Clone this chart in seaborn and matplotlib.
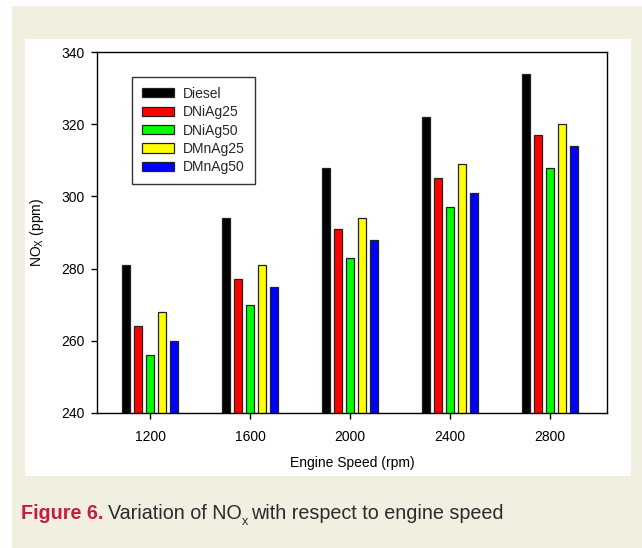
import pandas as pd
import numpy as np
import matplotlib
matplotlib.use('Agg')
import matplotlib.pyplot as plt
from matplotlib.patches import Rectangle
import seaborn as sns

# Data
speeds = ['1200', '1600', '2000', '2400', '2800']
fuels = ['Diesel', 'DNiAg25', 'DNiAg50', 'DMnAg25', 'DMnAg50']
diesel = [281, 294, 308, 322, 334]
dniag25 = [264, 277, 291, 305, 317]
dniag50 = [256, 270, 283, 297, 308]
dmnag25 = [268, 281, 294, 309, 320]
dmnag50 = [260, 275, 288, 301, 314]
colors = ['#000000', '#ff0000', '#00ff00', '#ffff00', '#0000ff']

series = [diesel, dniag25, dniag50, dmnag25, dmnag50]
df = pd.DataFrame({
    'speed': np.tile(speeds, len(fuels)),
    'fuel': np.repeat(fuels, len(speeds)),
    'nox': np.concatenate(series),
})

sns.set_theme(style='white')
plt.rcParams['font.family'] = ['Liberation Sans', 'DejaVu Sans']

W, H = 642, 548
fig = plt.figure(figsize=(W / 100, H / 100), dpi=100)
fig.patch.set_facecolor('white')

# beige page + white panel behind the chart
fig.add_artist(Rectangle((12 / W, 0), 1 - 12 / W, 1 - 6 / H, transform=fig.transFigure,
                         facecolor='#f1efe0', edgecolor='none', zorder=-10))
fig.add_artist(Rectangle((25 / W, 1 - 476 / H), (631 - 25) / W, (476 - 39) / H,
                         transform=fig.transFigure, facecolor='white', edgecolor='none', zorder=-9))

ax = fig.add_axes([97 / W, 1 - 413 / H, (607 - 97) / W, (413 - 52) / H])
ax.set_facecolor('white')

sns.barplot(data=df, x='speed', y='nox', hue='fuel', order=speeds, hue_order=fuels,
            palette=colors, width=0.6, gap=1 / 3, edgecolor='#222222', linewidth=0.9,
            saturation=1, ax=ax)

ax.set_ylim(240, 340)
ax.set_yticks(range(240, 341, 20))
ax.set_xlim(-0.53, 4.57)

for s in ax.spines.values():
    s.set_color('black')
    s.set_linewidth(1.0)

ax.tick_params(axis='both', which='major', direction='out', length=4, width=1,
               color='black', labelsize=10, labelcolor='black', pad=3,
               bottom=True, left=True, top=False, right=False)
ax.tick_params(axis='y', pad=5)
ax.tick_params(axis='x', pad=8)

ax.set_xlabel('Engine Speed (rpm)', fontsize=10, color='black')
ax.set_ylabel(r'NO$_\mathregular{X}$ (ppm)', fontsize=10, color='black')
ax.xaxis.set_label_coords(0.5, -0.12)
ax.yaxis.set_label_coords(-0.1, 0.5)

handles, labels = ax.get_legend_handles_labels()
leg = ax.legend(handles, labels, loc='upper left', bbox_to_anchor=(0.0686, 0.931),
                borderaxespad=0, frameon=True, fancybox=False, fontsize=10,
                handlelength=2.3, handleheight=0.65, handletextpad=0.7,
                labelspacing=0.32, borderpad=0.7)
leg.get_frame().set_edgecolor('black')
leg.get_frame().set_linewidth(1.0)

# caption, built from pieces so the subscript sits low like the original
cap_y = 1 - 519 / H
renderer = fig.canvas.get_renderer()
pieces = [('Figure 6.', 14.2, 'bold', '#c41e3a', 0, 4),
          ('Variation of NO', 14.2, 'normal', '#2b2b2b', 0, 1),
          ('x', 9, 'normal', '#2b2b2b', -6, 3),
          ('with respect to engine speed', 14.2, 'normal', '#2b2b2b', 0, 0)]
x = 21
for txt, size, weight, col, dy, gap in pieces:
    t = fig.text(x / W, cap_y + dy / H, txt, fontsize=size, fontweight=weight,
                 color=col, va='baseline', ha='left')
    bb = t.get_window_extent(renderer=renderer)
    x = bb.x1 + gap

fig.savefig('out.png', dpi=100, facecolor=fig.get_facecolor())
